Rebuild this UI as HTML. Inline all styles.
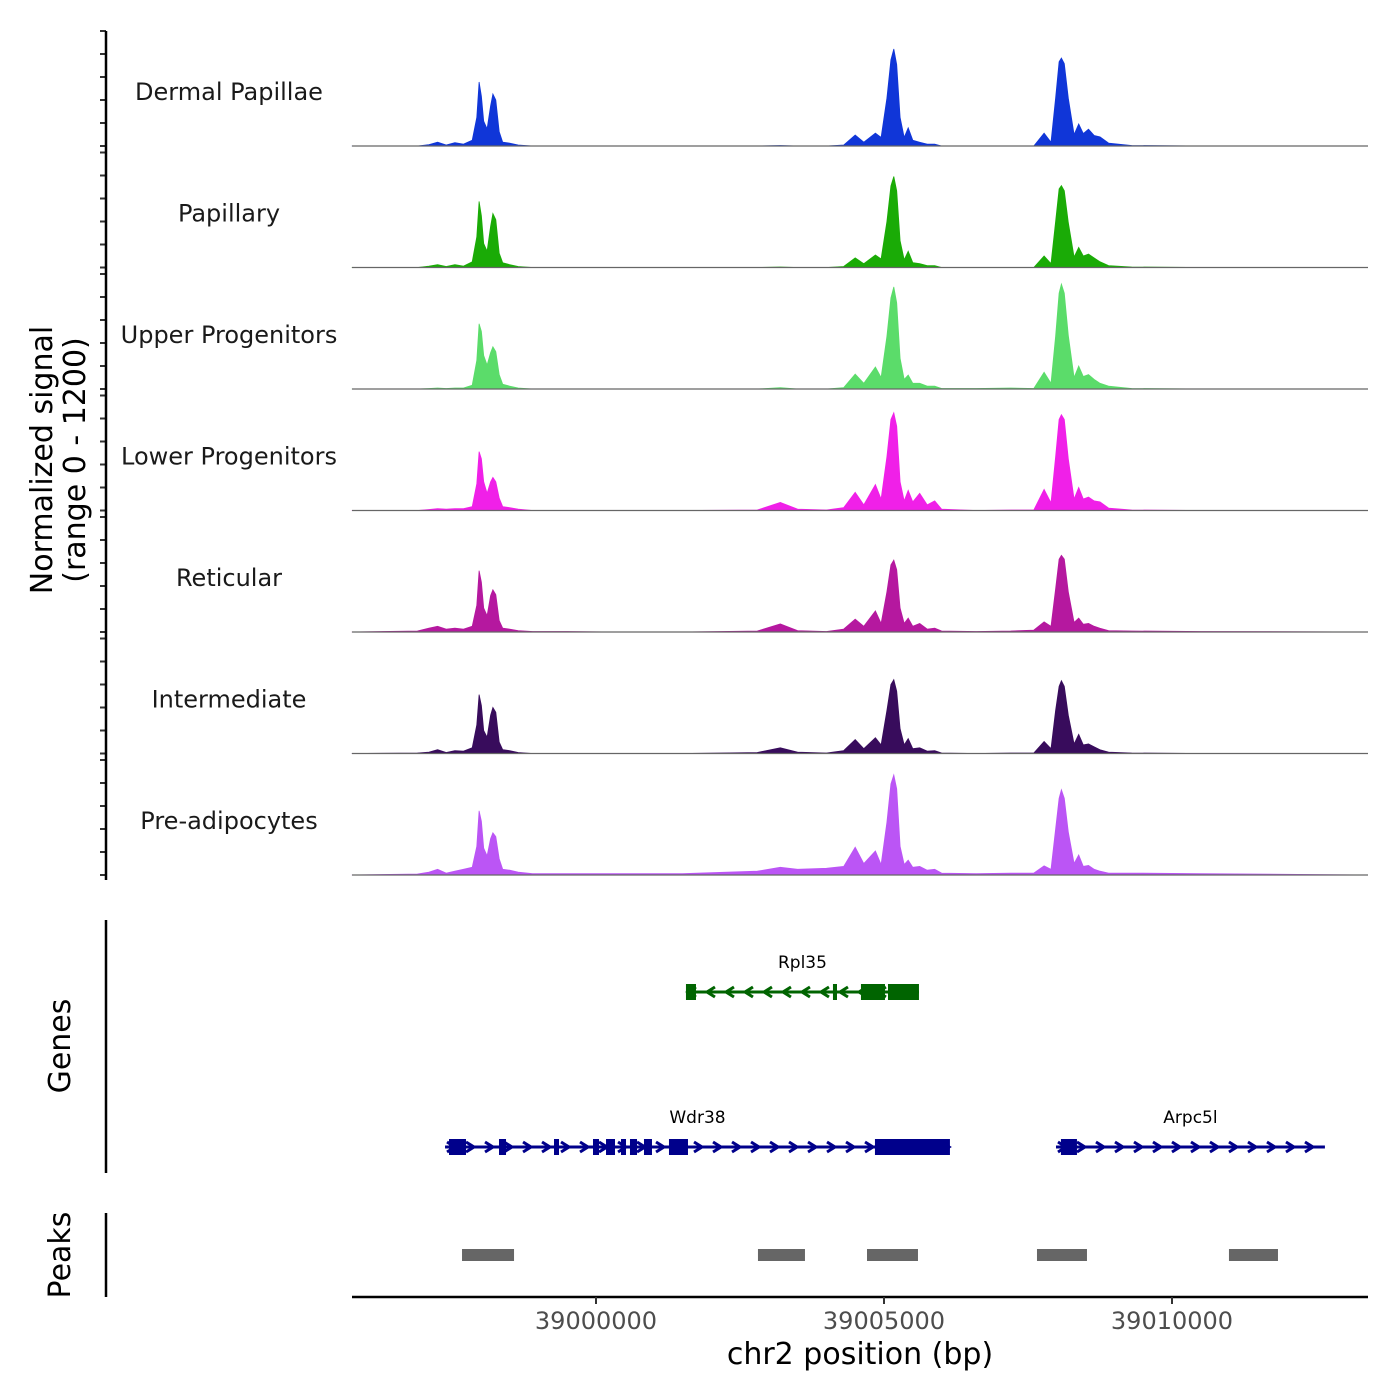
<!DOCTYPE html>
<html><head><meta charset="utf-8">
<style>
html,body{margin:0;padding:0;background:#fff;}
svg{display:block;font-family:"DejaVu Sans","Liberation Sans",sans-serif;}
</style></head>
<body>
<svg id="chart" width="1400" height="1400" viewBox="0 0 1400 1400" xmlns="http://www.w3.org/2000/svg">
  <g id="tracks"></g>
  <g id="yaxis"></g>
  <text transform="translate(52,460) rotate(-90)" text-anchor="middle" font-size="30" fill="#000">Normalized signal</text>
  <text transform="translate(85,460) rotate(-90)" text-anchor="middle" font-size="30" fill="#000">(range 0 - 1200)</text>
  <g id="genes"></g>
  <line x1="106" y1="920" x2="106" y2="1173" stroke="#000" stroke-width="2.5"/>
  <text transform="translate(70,1046) rotate(-90)" text-anchor="middle" font-size="30" fill="#000">Genes</text>
  <g id="peaks"></g>
  <line x1="106" y1="1213" x2="106" y2="1297" stroke="#000" stroke-width="2.5"/>
  <text transform="translate(70,1255) rotate(-90)" text-anchor="middle" font-size="30" fill="#000">Peaks</text>
  <g id="xaxis"></g>
  <text x="860" y="1364" text-anchor="middle" font-size="30" fill="#000">chr2 position (bp)</text>
</svg>
<script>
// ---------- data ----------
const trackNames = ["Dermal Papillae","Papillary","Upper Progenitors","Lower Progenitors","Reticular","Intermediate","Pre-adipocytes"];
const trackColors = ["#1036d8","#1aab06","#5bdc6a","#f020e8","#b5189f","#380c5c","#bb55f5"];
// positions in kb relative to 39000000
const positionsKb = [-4.24,-3.1,-2.9,-2.75,-2.6,-2.45,-2.3,-2.15,-2.07,-2.03,-1.99,-1.95,-1.89,-1.83,-1.79,-1.74,-1.68,-1.62,-1.5,-1.35,-1.1,-0.5,0.3,1.5,2.8,3.2,3.5,4.0,4.3,4.5,4.65,4.85,4.95,5.05,5.12,5.17,5.22,5.28,5.35,5.42,5.5,5.62,5.75,5.88,6.0,6.6,7.2,7.6,7.78,7.9,7.98,8.04,8.08,8.13,8.2,8.3,8.38,8.46,8.55,8.65,8.75,8.9,9.3,10.5,13.4];
const valsDermal   = [0,0,15,40,10,35,20,60,300,668,520,260,180,420,543,480,150,40,30,10,0,0,0,0,0,5,0,0,10,115,40,135,90,500,900,1012,850,300,90,190,60,40,20,20,0,0,0,0,135,40,500,880,918,860,500,120,230,130,175,110,95,30,5,0,0];
const valsPapillary= [0,0,15,30,10,30,15,60,320,690,540,250,170,430,563,500,150,50,30,10,0,0,0,0,0,5,0,0,10,100,40,130,90,480,850,950,800,280,80,170,50,40,20,20,0,0,0,0,120,40,480,820,855,800,470,110,210,120,140,100,60,20,5,0,0];
const valsUpper    = [0,0,5,10,5,10,10,40,300,680,600,350,250,380,440,390,150,50,30,10,0,0,0,0,0,15,0,0,15,155,60,230,120,550,950,1065,900,320,100,145,60,60,30,30,5,5,10,5,175,60,550,1000,1095,1000,560,120,240,130,150,100,60,30,5,0,0];
const valsLower    = [0,0,10,20,15,20,20,40,280,615,540,300,180,300,345,300,130,40,30,15,0,0,0,0,5,85,15,5,30,190,60,270,120,560,950,1020,880,300,100,210,90,180,60,100,15,0,5,5,220,80,560,950,1000,950,540,120,240,120,140,100,90,25,5,0,0];
const valsReticular= [0,10,40,60,30,40,30,60,280,640,520,250,170,380,440,390,120,40,30,15,5,5,0,0,10,85,15,5,30,135,60,220,90,420,700,750,650,250,90,145,60,90,30,40,10,5,10,20,105,60,450,760,800,760,420,100,145,80,90,60,40,15,10,5,0];
const valsInterm   = [0,5,15,40,10,30,25,60,300,615,500,240,170,400,480,430,120,40,30,10,0,0,0,0,10,60,15,5,30,145,50,165,90,450,720,770,650,260,90,155,50,60,25,30,5,0,5,5,125,50,450,700,760,700,400,100,200,90,100,70,40,15,5,0,0];
const valsPreadipo = [0,10,30,60,20,40,60,80,300,670,560,280,200,380,440,400,170,60,50,30,15,15,15,15,40,80,60,70,90,290,120,250,110,550,950,1045,900,300,110,155,80,90,50,60,20,15,20,20,95,60,480,800,890,800,450,120,210,90,100,60,40,20,20,15,0];
const trackValues = [valsDermal,valsPapillary,valsUpper,valsLower,valsReticular,valsInterm,valsPreadipo];

const xTicks = [39000000,39005000,39010000];
const xTickLabels = ["39000000","39005000","39010000"];

const geneNames = ["Rpl35","Wdr38","Arpc5l"];
const geneStrands = [-1,1,1];
const geneStarts = [39001562,38997379,39007986];
const geneEnds = [39005607,39006145,39012655];
const geneRows = [0,1,1];
const geneColors = ["#006400","#00008b","#00008b"];
const geneExons = [
  [[39001562,39001736],[39004114,39004184],[39004600,39005017],[39005069,39005607]],
  [[38997448,38997743],[38998316,38998438],[38999271,38999358],[38999948,39000052],[39000174,39000330],[39000434,39000521],[39000590,39000712],[39000833,39000972],[39001267,39001597],[39004843,39006145]],
  [[39008072,39008350]]
];
const peakStarts = [38997674,39002812,39004705,39007656,39010989];
const peakEnds   = [38998577,39003628,39005590,39008524,39011840];

// ---------- scales ----------
const X0 = 38995764, PX_PER_BP = 288/5000, LEFT = 352, RIGHT = 1368;
function xs(bp){ return LEFT + (bp - X0)*PX_PER_BP; }
const baseline0 = 146, trackStep = 121.5, pxPerUnit = 115/1200;
function ys(v, i){ return baseline0 + i*trackStep - v*pxPerUnit; }

const NS = "http://www.w3.org/2000/svg";
function mk(tag, attrs, parent){ const e=document.createElementNS(NS,tag); for(const k in attrs) e.setAttribute(k,attrs[k]); parent.appendChild(e); return e; }

// ---------- tracks ----------
const gT = document.getElementById("tracks");
const gY = document.getElementById("yaxis");
trackNames.forEach((name,i)=>{
  const base = ys(0,i);
  let d = "M"+xs(X0)+","+base;
  positionsKb.forEach((p,j)=>{ d += " L"+xs(39000000+p*1000).toFixed(1)+","+ys(trackValues[i][j],i).toFixed(1); });
  d += " L"+RIGHT+","+base+" Z";
  const area = mk("path",{d:d,fill:trackColors[i],stroke:trackColors[i],"stroke-width":"0.8"},gT);
  
  
  const bl = mk("line",{x1:LEFT,x2:RIGHT,y1:base,y2:base,stroke:"#666","stroke-width":"1.2"},gT);
  
  
  const lab = mk("text",{x:229,y:base-46,"text-anchor":"middle","font-size":"24",fill:"#1a1a1a"},gT);
  lab.textContent = name;
  
  
  for(let k=0;k<=5;k++){
    const y = base - k*23;
    const t = mk("line",{x1:100,x2:106,y1:y,y2:y,stroke:"#333","stroke-width":"2"},gY);
    
    
  }
});
const yl = mk("line",{x1:106,x2:106,y1:31,y2:880,stroke:"#000","stroke-width":"2.5"},gY);



// ---------- genes ----------
const gG = document.getElementById("genes");
const rowY = [992,1147];
geneNames.forEach((n,i)=>{
  const y = rowY[geneRows[i]], c = geneColors[i];
  const x1 = xs(geneStarts[i]), x2 = xs(geneEnds[i]);
  const g = mk("g",{},gG);
  
  
  mk("line",{x1:x1,x2:x2,y1:y,y2:y,stroke:c,"stroke-width":"3"},g);
  for(let x=x1+6; x<x2-2; x+=19){
    const s = geneStrands[i]*4;
    mk("polyline",{points:(x-s)+","+(y-5)+" "+(x+s)+","+y+" "+(x-s)+","+(y+5),fill:"none",stroke:c,"stroke-width":"3"},g);
  }
  geneExons[i].forEach(ex=>{
    mk("rect",{x:xs(ex[0]),y:y-8,width:Math.max(3,xs(ex[1])-xs(ex[0])),height:16,fill:c},g);
  });
  const lab = mk("text",{x:(x1+x2)/2,y:y-24,"text-anchor":"middle","font-size":"17",fill:"#000"},g);
  lab.textContent = n;
  
  
});
// ---------- peaks ----------
const gP = document.getElementById("peaks");
peakStarts.forEach((s,i)=>{
  const r = mk("rect",{x:xs(s),y:1249,width:xs(peakEnds[i])-xs(s),height:12,fill:"#666"},gP);
  
  
});

// ---------- x axis ----------
const gX = document.getElementById("xaxis");
const ax = mk("line",{x1:LEFT,x2:RIGHT,y1:1297,y2:1297,stroke:"#000","stroke-width":"2.5"},gX);


xTicks.forEach((t,i)=>{
  const x = xs(t);
  const tk = mk("line",{x1:x,x2:x,y1:1297,y2:1304,stroke:"#333","stroke-width":"2"},gX);
  
  
  const lb = mk("text",{x:x,y:1329,"text-anchor":"middle","font-size":"24",fill:"#4d4d4d"},gX);
  lb.textContent = xTickLabels[i];
  
  
});
</script>
</body></html>
